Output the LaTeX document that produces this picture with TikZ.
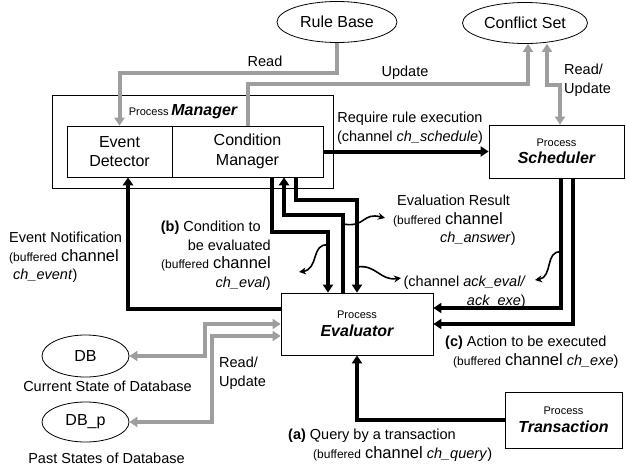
\documentclass[tikz,border=0pt]{standalone}
\usepackage{fontspec}
\setmainfont{Liberation Sans}
\usepackage{xcolor}
\usepackage{tikz}
\usetikzlibrary{shapes,arrows.meta,calc,positioning}

\definecolor{flowgray}{RGB}{158,158,158}
\newcommand{\nodefont}{\fontsize{16}{19.5}\selectfont}
\newcommand{\lblfont}{\fontsize{14.5}{18.5}\selectfont}
\newcommand{\procfont}{\fontsize{11}{13}\selectfont}
\newcommand{\buf}{{\fontsize{12}{14}\selectfont(buffered} {\fontsize{16.5}{18.5}\selectfont channel}}
\newcommand{\proc}[1]{{\procfont Process}\\[-2pt]{\bfseries\itshape #1}}

\begin{document}
\begin{tikzpicture}[x=1pt,y=-1pt,
	box/.style={draw,line width=0.8pt,align=center,inner sep=0pt,font=\nodefont},
	store/.style={draw,ellipse,line width=0.8pt,inner sep=0pt,font=\nodefont},
	lbl/.style={font=\lblfont,inner sep=0pt},
	blk/.style={line width=4pt,-{Triangle[length=8pt,width=10pt]}},
	gry/.style={line width=4pt,flowgray,-{Triangle[length=8pt,width=10pt]}},
	gry2/.style={gry,{Triangle[length=8pt,width=10pt]}-{Triangle[length=8pt,width=10pt]}},
	curly/.style={line width=1.6pt,-{Stealth[length=7pt,width=7pt]}}]
\useasboundingbox (0,0) rectangle (626,466);

\node[store,minimum width=120pt,minimum height=41pt] (rulebase) at (337,22) {Rule Base};
\node[store,minimum width=125pt,minimum height=41pt] (conflictset) at (525,23) {Conflict Set};
\node[box,minimum width=281pt,minimum height=93pt] (manager) at (192.5,141.5) {};
\node[inner sep=0pt] (mgrlabel) at (183,112) {{\procfont Process} {\nodefont\bfseries\itshape Manager}};
\node[box,line width=0.6pt,minimum width=105pt,minimum height=51pt] (evdet) at (119.5,151.5) {Event\\Detector};
\node[box,line width=0.6pt,minimum width=151pt,minimum height=51pt] (condmgr) at (247.5,151.5) {Condition\\Manager};
\node[box,minimum width=135pt,minimum height=53pt] (scheduler) at (556.5,151.5) {\proc{Scheduler}};
\node[box,minimum width=152pt,minimum height=62pt] (evaluator) at (357,324) {\proc{Evaluator}};
\node[box,minimum width=117pt,minimum height=56pt] (transaction) at (563.5,420) {\proc{Transaction}};
\node[store,minimum width=87pt,minimum height=42pt] (db) at (85.5,356) {DB};
\node[store,minimum width=87pt,minimum height=40pt] (dbp) at (85.5,422) {DB\_p};
\node[lbl,below=3pt of db,xshift=22pt] (dbcap) {Current State of Database};
\node[lbl,below=10pt of dbp,xshift=21pt] (dbpcap) {Past States of Database};

\draw[gry] (rulebase.south) -- ++(0,30) -| (evdet.north);
\node[lbl] (readlbl) at (265,61) {Read};
\draw[gry] (condmgr.north) -- ++(0,-42) -| ([xshift=3pt]conflictset.south);
\node[lbl] (updlbl) at (405,73) {Update};
\draw[gry2] ([xshift=22pt]conflictset.south) -- ++(0,41) -| ([xshift=3.5pt]scheduler.north);
\node[lbl,anchor=north west,align=left] (rulbl) at (564,64) {Read/\\Update};

\draw[blk] (condmgr.east) -- (scheduler.west);
\node[lbl,anchor=north,align=center] (reqlbl) at (410,112) {Require rule execution\\(channel \textit{ch\_schedule})};

\draw[blk] ([xshift=24.5pt]condmgr.south) -- ++(0,55) -| ([xshift=-29pt]evaluator.north);
\draw[blk] ([xshift=-14pt]evaluator.north) -- ++(0,-78) -| ([xshift=36.5pt]condmgr.south);
\draw[blk] ([xshift=48.5pt]condmgr.south) -- ++(0,23) -| (evaluator.north);

\draw[blk] ([xshift=4.5pt]scheduler.south) |- ([yshift=16pt]evaluator.east);
\draw[blk] ([xshift=16pt]scheduler.south) |- (evaluator.east);

\draw[blk] ([yshift=15pt]evaluator.west) -| ([xshift=8.5pt]evdet.south);
\draw[blk] (transaction.west) -| (evaluator.south);

\draw[gry2] (db.east) -- ++(76,0) |- (evaluator.west);
\draw[gry2] (dbp.east) -- ++(83,0) |- ([yshift=-12pt]evaluator.west);
\node[lbl,anchor=north west,align=left] (dblbl) at (219,357) {Read/\\Update};

\coordinate (cA) at (328,245);
\coordinate (tA) at (299,272);
\draw[curly] (cA) .. controls (311,243) and (319,269) .. (tA);
\coordinate (cB) at (343,224);
\coordinate (tB) at (385,218);
\draw[curly] (cB) .. controls (366,228) and (362,212) .. (tB);
\coordinate (cC) at (357,267);
\coordinate (tC) at (401,278);
\draw[curly] (cC) .. controls (376,264) and (380,281) .. (tC);
\coordinate (cD) at (561,252);
\coordinate (tD) at (535,280);
\draw[curly] (cD) .. controls (545,250) and (553,277) .. (tD);

\node[lbl,anchor=north west,align=left] (evnote) at (9,232) {Event Notification\\\buf\\\hspace*{4pt}\textit{ch\_event})};
\node[lbl,anchor=north east,align=right] (condlbl) at (271,221) {\textbf{(b)} Condition to\hspace*{10pt}\\be evaluated\\\buf\\\textit{ch\_eval})};
\node[lbl,anchor=north west,align=left] (evalres) at (393,195) {\hspace*{4pt}Evaluation Result\\\buf\\\hspace*{47pt}\textit{ch\_answer})};
\node[lbl,anchor=north east,align=right] (ackl) at (526,276) {(channel \textit{ack\_eval/}\\\textit{ack\_exe})};
\node[lbl,anchor=north west,align=left] (actlbl) at (445,336) {\textbf{(c)} Action to be executed\\\hspace*{8pt}\buf{} \textit{ch\_exe})};
\node[lbl,anchor=north west,align=left] (query) at (288,429) {\textbf{(a)} Query by a transaction\\\hspace*{25pt}\buf{} \textit{ch\_query})};

\end{tikzpicture}
\end{document}
